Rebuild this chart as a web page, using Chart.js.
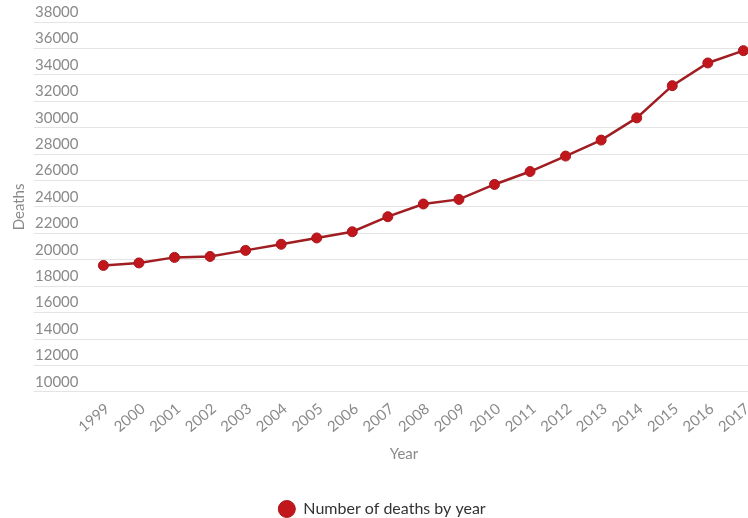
<!DOCTYPE html>
<html>
<head>
<meta charset="utf-8">
<script src="https://cdn.jsdelivr.net/npm/chart.js@4/dist/chart.umd.min.js"></script>
<style>
html,body{margin:0;padding:0;background:#fff;}
#wrap{width:748px;height:518px;position:relative;}
</style>
</head>
<body>
<div id="wrap"><canvas id="c"></canvas></div>
<script>
const years = [1999, 2000, 2001, 2002, 2003, 2004, 2005, 2006, 2007, 2008, 2009, 2010, 2011, 2012, 2013, 2014, 2015, 2016, 2017];
const deaths = [19570, 19760, 20180, 20250, 20710, 21170, 21650, 22120, 23260, 24220, 24570, 25700, 26680, 27850, 29060, 30740, 33180, 34900, 35830];
const yTickValues = [10000, 12000, 14000, 16000, 18000, 20000, 22000, 24000, 26000, 28000, 30000, 32000, 34000, 36000, 38000];
const seriesLabel = 'Number of deaths by year';
const xTitle = 'Year';
const yTitle = 'Deaths';

const grey = '#8a8a8a';
const fontFam = 'Lato, "Open Sans", sans-serif';

new Chart(document.getElementById('c'), {
  type: 'line',
  data: {
    datasets: [{
      label: seriesLabel,
      data: years.map((yr, i) => ({ x: yr, y: deaths[i] })),
      borderColor: '#a01d22',
      backgroundColor: '#c1161c',
      pointBackgroundColor: '#c1161c',
      pointBorderColor: '#a8181d',
      pointBorderWidth: 1,
      pointRadius: 5,
      borderWidth: 2.5,
      tension: 0,
      clip: false
    }]
  },
  options: {
    responsive: true,
    maintainAspectRatio: false,
    animation: false,
    devicePixelRatio: 1,
    layout: { autoPadding: false, padding: { top: 22, left: 16, right: 0, bottom: -9 } },
    plugins: {
      legend: {
        position: 'bottom',
        labels: {
          usePointStyle: true,
          pointStyle: 'circle',
          boxHeight: 12,
          pointStyleWidth: 17,
          color: '#333',
          font: { family: fontFam, size: 16 },
          padding: 1
        }
      },
      tooltip: { enabled: false }
    },
    scales: {
      x: {
        type: 'linear',
        min: 1997.78,
        max: 2017.13,
        afterBuildTicks: s => { s.ticks = years.map(v => ({ value: v })); },
        afterFit: s => { s.paddingRight = 0; s.paddingLeft = 0; },
        grid: { display: false },
        border: { display: false },
        ticks: {
          autoSkip: false,
          minRotation: 40,
          maxRotation: 40,
          padding: 0,
          labelOffset: 4,
          color: grey,
          font: { family: fontFam, size: 15 },
          callback: v => String(v)
        },
        title: {
          display: true,
          text: xTitle,
          color: grey,
          font: { family: fontFam, size: 15 },
          padding: { top: 9, bottom: 37 }
        }
      },
      y: {
        min: 10000,
        max: 38000,
        afterBuildTicks: s => { s.ticks = yTickValues.map(v => ({ value: v })); },
        afterFit: s => { s.width = 44; },
        grid: { color: '#e4e4e4', tickLength: 26, drawTicks: true, lineWidth: 1 },
        border: { display: false },
        ticks: {
          mirror: true,
          padding: -25,
          labelOffset: -10,
          color: grey,
          font: { family: fontFam, size: 15 },
          callback: v => String(v)
        },
        title: {
          display: true,
          text: yTitle,
          color: grey,
          font: { family: fontFam, size: 15 },
          padding: { top: -6, bottom: 0 }
        }
      }
    }
  }
});
</script>
</body>
</html>
